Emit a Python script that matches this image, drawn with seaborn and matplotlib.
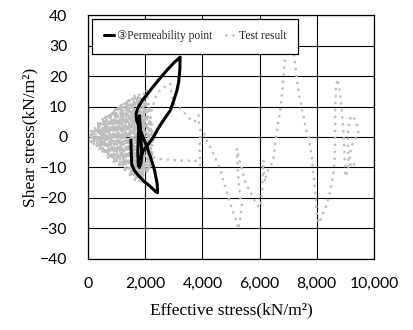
import matplotlib
matplotlib.use("Agg")
import matplotlib.pyplot as plt
import seaborn as sns
import pandas as pd

# Stress path at permeability point 3 (effective stress, shear stress)
perm_x = [1500, 1510, 1530, 1620, 1780, 1950, 2150, 2330, 2430, 2420, 2330, 2200,
          2050, 1920, 1800, 1700, 1680, 1740, 1900, 2150, 2450, 2750, 3020, 3220,
          3210, 3170, 3110, 3000, 2875, 2640, 2450, 2290, 2120, 1940, 1820, 1760,
          1740, 1760, 1780, 1800, 1830, 1860, 1880, 1850, 1800]
perm_y = [-1.0, -5.0, -9.0, -11.0, -12.8, -14.5, -16.0, -17.6, -18.3, -15.5, -11.0, -7.0,
          -3.0, 0.0, 2.8, 5.5, 7.6, 9.5, 12.0, 15.0, 18.5, 21.8, 24.5, 26.2,
          22.0, 18.0, 15.3, 12.0, 8.7, 5.5, 2.8, 0.0, -2.2, -4.3, -7.0, -9.5,
          -5.0, 0.0, 4.0, 7.0, 3.0, -2.0, -6.0, -8.5, -10.0]

# Cyclic test result: stress path from the far right down into the origin fan
test_x = [9300, 9200, 9150, 9200, 9320, 9420, 9450, 9400, 9320, 9200, 9120, 9080,
          9100, 9100, 9020, 8990, 8980, 8960, 8930, 8880, 8830, 8780, 8720, 8680, 8650,
          8640, 8640, 8620, 8580, 8520, 8450, 8330, 8200, 8080, 8030, 7995, 7960,
          7920, 7880, 7830, 7770, 7700, 7620, 7530, 7450, 7370, 7300, 7240, 7190,
          7120, 7020, 6940, 6900, 6833, 6780, 6717, 6660, 6600, 6542, 6484, 6427,
          6300, 6230, 6193, 6134, 6134, 6080, 6030, 5960, 5843, 5727, 5610, 5493,
          5377, 5261, 5204, 5230, 5280, 5330, 5380, 5330, 5262, 5180, 5030, 4880,
          4740, 4622, 4500, 4380, 4260, 4157, 4040, 3930, 3900, 3910, 3922, 3760,
          3500, 3250, 3000, 2750, 2500, 2235,
          # fan of cycles near the origin
          2250, 2050, 1900, 1950, 1800, 1850, 1700, 1750, 1600, 1650, 1500, 1550,
          1400, 1450, 1300, 1350, 1200, 1250, 1100, 1150, 1000, 1050, 900, 950,
          800, 850, 700, 750, 600, 650, 500, 550, 400, 450, 300, 350,
          200, 250, 100, 150, 0, 200, 400, 300, 600, 500, 800, 700,
          1000, 900, 1200, 1100, 1400, 1300, 1600, 1500, 1800, 1700, 2000, 1900,
          2150, 2050, 2250, 2150, 2200, 1950, 2100, 1750, 1900, 1550, 1650, 1350,
          1450, 1150, 1250, 950, 1050, 750, 850, 550, 650, 350, 450, 150, 250,
          60, 120, 450, 380, 700, 620, 950, 880, 1250, 1150, 1550, 1450, 1850,
          1750, 2150, 2000, 2300, 1600, 2250, 1500, 2200, 1300, 2100, 1100, 1900,
          900, 1700, 700, 1400, 500, 1100, 300, 800, 150, 500, 80,
          1750, 2200, 1650, 2300, 1850, 2100, 2200, 2400,
          2600, 2875, 2930, 2990, 3223, 3400, 3550, 3713, 3864, 3890]
test_y = [-9.0, -10.0, -7.0, -3.0, -1.0, 0.5, 1.5, 4.0, 6.0, 7.0, 4.0, 0.0,
          -5.0, -10.0, -13.0, -12.0, -8.0, -3.0, 2.0, 8.0, 13.0, 16.5, 19.0, 17.0, 12.0,
          5.0, -2.0, -8.0, -12.0, -15.0, -18.5, -22.5, -25.5, -28.3, -27.0, -24.0, -20.0,
          -16.4, -12.0, -7.0, -3.3, 0.5, 2.5, 7.0, 10.5, 14.5, 19.0, 23.5, 27.5,
          31.0, 32.5, 31.0, 27.3, 19.6, 14.0, 8.2, 5.5, 1.6, -2.2, -7.0, -8.7,
          -10.5, -12.5, -14.7, -11.0, -7.6, -18.5, -23.0, -22.9, -21.2, -19.0, -16.9, -14.7,
          -10.3, -6.5, -3.8, -10.0, -16.4, -20.0, -22.5, -26.0, -30.2, -27.5, -23.4, -19.0,
          -14.5, -10.5, -8.0, -5.5, -3.0, -1.1, 1.6, 2.5, -3.0, -7.0, -9.3, -7.8,
          -7.8, -7.7, -7.6, -7.4, -7.2, -6.6,
          # fan of cycles near the origin
          3.0, 15.3, -14.7, 14.5, -14.0, 13.8, -13.5, 13.5, -12.8, 13.2, -12.0, 12.6,
          -11.3, 12.3, -10.6, 12.0, -10.0, 11.5, -9.3, 11.0, -8.6, 10.3, -7.9, 9.6,
          -7.2, 8.7, -6.4, 8.0, -5.8, 7.1, -5.0, 6.3, -4.3, 5.5, -3.5, 4.5,
          -2.5, 3.5, -1.5, 2.5, 0.0, -2.0, 4.0, -3.8, 6.5, -5.5, 8.0, -7.0,
          9.5, -8.2, 11.0, -9.5, 12.0, -10.8, 12.8, -12.5, 14.0, -13.5, 14.8, -14.5,
          6.0, -12.0, 2.0, -10.0, 0.0, 13.0, -6.0, 12.5, -11.0, 11.5, -9.5, 10.5,
          -10.5, 9.5, -9.0, 8.5, -7.5, 7.0, -6.5, 5.5, -5.0, 4.0, -3.5, 2.0, -1.5,
          0.5, 1.0, -4.0, 5.0, -6.0, 7.0, -8.0, 9.0, -9.5, 11.0, -11.0, 12.5, -12.5,
          13.0, -11.0, 14.0, -2.0, 14.0, 4.0, -13.0, -8.0, 12.0, -11.0, 10.5, -12.5,
          9.0, -11.0, 7.5, -9.0, 6.0, -6.5, 4.0, -4.5, 2.0, -2.5, 0.0,
          -15.0, -9.0, -13.5, -5.0, -12.0, 10.0, 8.0, 14.2,
          16.0, 17.5, 14.0, 10.9, 9.3, 7.6, 6.0, 4.9, 7.1, 3.0]

x_ticks = [0, 2000, 4000, 6000, 8000, 10000]
x_tick_labels = ["0", "2,000", "4,000", "6,000", "8,000", "10,000"]
y_ticks = [-40, -30, -20, -10, 0, 10, 20, 30, 40]

perm_df = pd.DataFrame({"sigma": perm_x, "tau": perm_y})
test_df = pd.DataFrame({"sigma": test_x, "tau": test_y})

sns.set_theme(style="white")
plt.rcParams["font.family"] = ["Lato", "DejaVu Sans"]
serif = ["Liberation Serif", "DejaVu Sans"]

fig = plt.figure(figsize=(4.14, 3.30), dpi=100)
ax = fig.add_axes([0.2126, 0.2152, 0.6908, 0.7393])

sns.lineplot(data=test_df, x="sigma", y="tau", sort=False, estimator=None,
             color="#BFBFBF", linewidth=2.0, ax=ax, zorder=2)
test_line = ax.lines[-1]
test_line.set_linestyle((0, (0.01, 2.5)))
test_line.set_dash_capstyle("round")

sns.lineplot(data=perm_df, x="sigma", y="tau", sort=False, estimator=None,
             color="black", linewidth=2.2, ax=ax, zorder=3)
perm_line = ax.lines[-1]
perm_line.set_solid_joinstyle("round")
perm_line.set_solid_capstyle("round")

ax.set_xlim(0, 10000)
ax.set_ylim(-40, 40)
ax.set_xticks(x_ticks)
ax.set_xticklabels(x_tick_labels)
ax.set_yticks(y_ticks)
ax.tick_params(axis="both", length=0, labelsize=11.3, colors="black")
ax.tick_params(axis="x", pad=13)
ax.tick_params(axis="y", pad=15)

ax.grid(True, color="black", linewidth=0.8)
ax.set_axisbelow(True)
for sp in ax.spines.values():
    sp.set_color("black")
    sp.set_linewidth(0.9)
    sp.set_visible(True)

ax.set_xlabel("Effective stress(kN/m\u00b2)", family=serif, fontsize=12.5,
              color="black", labelpad=8)
ax.set_ylabel("Shear stress(kN/m\u00b2)", family=serif, fontsize=12.5,
              color="black", labelpad=1)

leg = ax.legend([perm_line, test_line], ["\u2462Permeability point", "Test result"],
                ncol=2, loc="upper left", bbox_to_anchor=(0.014, 0.984),
                borderaxespad=0, frameon=True, fancybox=False, framealpha=1,
                edgecolor="black", handlelength=0.95, handletextpad=0.2,
                columnspacing=1.2, borderpad=1.0,
                prop={"family": serif, "size": 8.3})
leg.get_frame().set_linewidth(0.9)
leg.set_zorder(10)

fig.savefig("out.png", dpi=100)
